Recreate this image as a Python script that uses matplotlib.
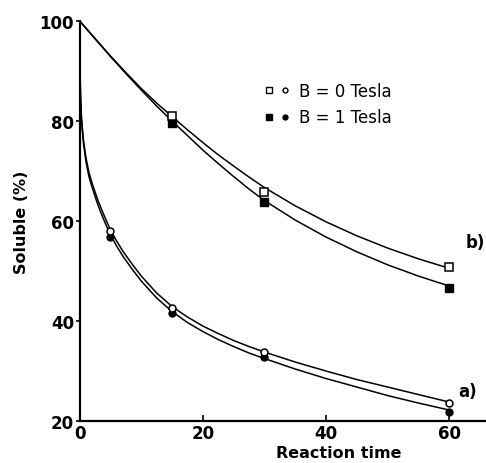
import matplotlib
matplotlib.use("Agg")
import matplotlib.pyplot as plt
from matplotlib.lines import Line2D
from matplotlib.legend_handler import HandlerTuple

# measured points
t_b = [15, 30, 60]
b_open = [81.0, 65.8, 50.8]
b_fill = [79.6, 63.8, 46.6]

t_a = [5, 15, 30, 60]
a_open = [58.0, 42.6, 33.8, 23.6]
a_fill = [56.8, 41.6, 32.8, 21.9]

# fitted curves
tc_b = [0, 2.5, 5, 7.5, 10, 12.5, 15, 17.5, 20, 22.5, 25, 27.5, 30, 35, 40, 45, 50, 55, 60]
cb_open = [100, 96.5, 93.0, 89.7, 86.5, 83.6, 80.9, 78.25, 75.7, 73.25, 71.0, 68.8, 66.7,
           63.05, 59.85, 57.05, 54.6, 52.45, 50.55]
cb_fill = [100, 96.45, 92.9, 89.5, 86.2, 83.0, 80.0, 77.1, 74.2, 71.5, 68.9, 66.4, 64.1,
           60.2, 56.8, 53.85, 51.25, 49.0, 47.0]

tc_a = [0, 0.05, 0.15, 0.3, 0.6, 1, 1.5, 2, 2.5, 3, 3.5, 4, 5, 6, 7, 8.5, 10, 12.5, 15,
        17.5, 20, 22.5, 25, 27.5, 30, 35, 40, 45, 50, 55, 60]
ca_open = [100, 90, 84.5, 80.5, 76.3, 72.8, 69.7, 67.6, 65.8, 64.0, 62.5, 61.0, 58.2, 56.0,
           54.0, 51.4, 49.0, 45.6, 42.9, 40.8, 39.0, 37.5, 36.1, 34.9, 33.8, 31.8, 30.0,
           28.3, 26.8, 25.3, 23.8]
ca_fill = [100, 89.5, 84.0, 80.0, 75.6, 72.0, 68.9, 66.8, 64.9, 63.1, 61.5, 60.0, 57.2, 55.0,
           53.0, 50.4, 48.0, 44.6, 41.9, 39.7, 37.9, 36.3, 34.9, 33.6, 32.5, 30.4, 28.5,
           26.8, 25.1, 23.6, 22.2]

plt.rcParams['font.family'] = ['DejaVu Sans']
plt.rcParams['font.weight'] = 'bold'
plt.rcParams['axes.labelweight'] = 'bold'

fig = plt.figure(figsize=(4.86, 4.64), dpi=100)
ax = fig.add_axes([0.164, 0.0905, 0.836, 0.862])

lw = 1.1
ax.plot(tc_b, cb_open, color='black', lw=lw)
ax.plot(tc_b, cb_fill, color='black', lw=lw)
ax.plot(tc_a, ca_open, color='black', lw=lw)
ax.plot(tc_a, ca_fill, color='black', lw=lw)

ax.plot(t_b, b_open, 's', ms=5.5, mfc='white', mec='black', mew=1.1, zorder=5)
ax.plot(t_b, b_fill, 's', ms=5.5, mfc='black', mec='black', zorder=4)
ax.plot(t_a, a_open, 'o', ms=5, mfc='white', mec='black', mew=1.1, zorder=5)
ax.plot(t_a, a_fill, 'o', ms=5, mfc='black', mec='black', zorder=4)

ax.set_xlim(0, 66)
ax.set_ylim(20, 100)
ax.set_xticks([0, 20, 40, 60])
ax.set_yticks([20, 40, 60, 80, 100])
for s in ['top', 'right']:
    ax.spines[s].set_visible(False)
for s in ['left', 'bottom']:
    ax.spines[s].set_linewidth(1.6)
ax.tick_params(axis='x', direction='in', length=4, width=1.2, labelsize=12, pad=2)
ax.tick_params(axis='y', direction='out', length=3, width=1.2, labelsize=12, pad=1)

ax.set_ylabel('Soluble (%)', fontsize=11.5)
ax.yaxis.set_label_coords(-0.125, 0.5)
ax.set_xlabel('Reaction time', fontsize=11.5)
ax.xaxis.set_label_coords(0.638, -0.06)

ax.text(64.2, 55.8, 'b)', fontsize=12, ha='center', va='center')
ax.text(63.0, 26.1, 'a)', fontsize=12, ha='center', va='center')

h0 = (Line2D([], [], marker='s', ls='', ms=4.5, mfc='white', mec='black'),
      Line2D([], [], marker='o', ls='', ms=3.5, mfc='white', mec='black'))
h1 = (Line2D([], [], marker='s', ls='', ms=4.5, mfc='black', mec='black'),
      Line2D([], [], marker='o', ls='', ms=3.5, mfc='black', mec='black'))
leg = ax.legend([h0, h1], ['B = 0 Tesla', 'B = 1 Tesla'],
                handler_map={tuple: HandlerTuple(ndivide=None, pad=0.6)},
                loc='upper left', bbox_to_anchor=(0.42, 0.885), frameon=False,
                prop={'size': 12, 'weight': 'normal'},
                handlelength=1.4, handletextpad=0.6, labelspacing=0.5)

fig.savefig('out.png', dpi=100)
